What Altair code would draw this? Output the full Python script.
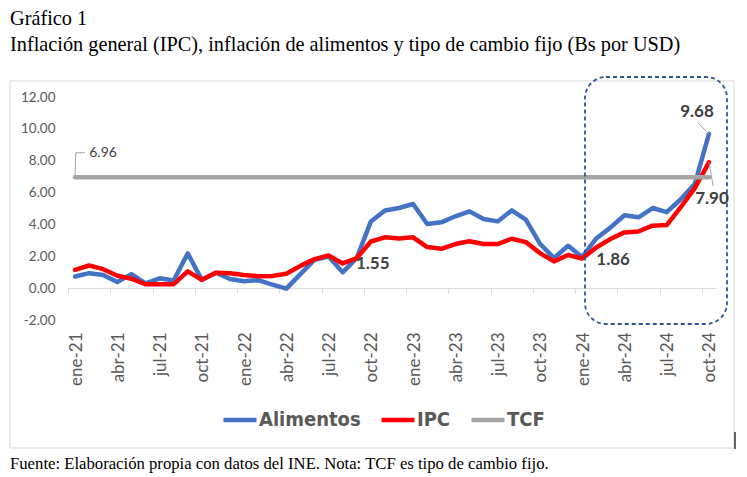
import altair as alt
import pandas as pd

# ---------------- data ----------------
meses = ["ene", "feb", "mar", "abr", "may", "jun", "jul", "ago", "sep", "oct", "nov", "dic"]
anios = ["21", "22", "23", "24"]
periodos = [f"{m}-{a}" for a in anios for m in meses][:46]   # ene-21 ... oct-24

alimentos = [0.73, 0.94, 0.82, 0.38, 0.88, 0.30, 0.62, 0.48, 2.18, 0.52, 0.97, 0.57,
             0.43, 0.50, 0.22, -0.03, 0.88, 1.78, 1.98, 0.99, 1.89, 4.19, 4.88, 5.03,
             5.28, 4.03, 4.13, 4.51, 4.82, 4.34, 4.19, 4.88, 4.30, 2.79, 1.89, 2.66,
             1.95, 3.12, 3.80, 4.58, 4.45, 5.03, 4.77, 5.58, 6.55, 9.68]

ipc = [1.15, 1.42, 1.19, 0.78, 0.59, 0.25, 0.25, 0.25, 1.05, 0.52, 0.96, 0.94,
       0.82, 0.75, 0.76, 0.90, 1.40, 1.82, 2.05, 1.55, 1.89, 2.93, 3.19, 3.12,
       3.19, 2.58, 2.47, 2.77, 2.94, 2.77, 2.77, 3.10, 2.89, 2.20, 1.68, 2.08,
       1.86, 2.55, 3.08, 3.50, 3.56, 3.92, 3.96, 5.08, 6.29, 7.90]

tcf = 6.96

tick_labels = ["ene-21", "abr-21", "jul-21", "oct-21", "ene-22", "abr-22", "jul-22", "oct-22",
               "ene-23", "abr-23", "jul-23", "oct-23", "ene-24", "abr-24", "jul-24", "oct-24"]

y_ticks = [-2, 0, 2, 4, 6, 8, 10, 12]

series = ["Alimentos", "IPC", "TCF"]
colores = ["#4472C4", "#FF0000", "#A5A5A5"]

titulo_1 = "Gráfico 1"
titulo_2 = "Inflación general (IPC), inflación de alimentos y tipo de cambio fijo (Bs por USD)"
fuente = "Fuente: Elaboración propia con datos del INE. Nota: TCF es tipo de cambio fijo."

# ---------------- tables ----------------
rows = []
for i, p in enumerate(periodos):
    rows.append({"idx": i, "periodo": p, "serie": "Alimentos", "valor": alimentos[i]})
    rows.append({"idx": i, "periodo": p, "serie": "IPC", "valor": ipc[i]})
    rows.append({"idx": i, "periodo": p, "serie": "TCF", "valor": tcf})
df = pd.DataFrame(rows)

FONT_AX = "Lato"
FONT_LEG = "Liberation Sans Narrow, DejaVu Sans Condensed, sans-serif"
FONT_SERIF = "Liberation Serif"

W, H = 648, 223

x_ticks = [-0.5 + 3 * j for j in range(len(tick_labels))]
lab_arr = "[" + ",".join(f"'{t}'" for t in tick_labels) + "]"

x_axis = alt.Axis(
    values=x_ticks,
    labelExpr=f"{lab_arr}[round((datum.value + 0.5) / 3)]",
    labelAngle=270,
    labelOffset=8,
    offset=-32,
    tickSize=5,
    labelPadding=39,
    domainColor="#D9D9D9",
    tickColor="#D9D9D9",
    grid=False,
    labelFont=FONT_AX,
    labelFontSize=17,
    labelColor="#595959",
    labelFlush=False,
    labelOverlap=False,
    labelBound=False,
    title=None,
)
x_scale = alt.Scale(domain=[-0.5, 45.5], nice=False, zero=False)

y_axis = alt.Axis(
    values=y_ticks,
    labelExpr="(datum.value < 0 ? '-' : '') + format(abs(datum.value), '.2f')",
    domain=False,
    ticks=False,
    grid=False,
    labelPadding=13,
    labelFont=FONT_AX,
    labelFontSize=13.5,
    labelColor="#595959",
    labelOverlap=False,
    labelFlush=False,
    labelBound=False,
    title=None,
)
y_scale = alt.Scale(domain=[-2, 12], nice=False, zero=False)


def X(field="idx"):
    return alt.X(f"{field}:Q", scale=x_scale, axis=x_axis)


def Y(field="valor"):
    return alt.Y(f"{field}:Q", scale=y_scale, axis=y_axis)


lines = alt.Chart(df).mark_line(strokeWidth=4.5, strokeJoin="round", strokeCap="round").encode(
    x=X(),
    y=Y(),
    color=alt.Color(
        "serie:N",
        scale=alt.Scale(domain=series, range=colores),
        legend=alt.Legend(
            orient="none",
            legendX=153,
            legendY=304,
            direction="horizontal",
            title=None,
            symbolType="stroke",
            symbolStrokeWidth=4.5,
            symbolSize=1089,
            labelFont=FONT_LEG,
            labelFontSize=20,
            labelFontWeight="bold",
            labelColor="#595959",
            labelOffset=0,
            columnPadding=11,
        ),
    ),
    order=alt.Order("idx:Q"),
)

one = pd.DataFrame({"a": [0]})

# frame of the chart object
frame = alt.Chart(one).mark_rect(
    fill="white", fillOpacity=0, stroke="#D9D9D9", strokeWidth=1
).encode(x=alt.value(-58), x2=alt.value(666), y=alt.value(-16), y2=alt.value(351))

# dashed rounded highlight box
box = alt.Chart(one).mark_rect(
    fill="white", fillOpacity=0, stroke="#2F5597", strokeWidth=1.8,
    strokeDash=[4, 3], cornerRadius=21
).encode(x=alt.value(517), x2=alt.value(659), y=alt.value(-20), y2=alt.value(227))

# small cursor mark at right bottom of frame
cursor = alt.Chart(one).mark_rule(color="black", strokeWidth=1.2).encode(
    x=alt.value(667), y=alt.value(335), y2=alt.value(352)
)


# data labels
def etiqueta(i, val, dx, dy, bold=True, size=17):
    d = pd.DataFrame({"idx": [i], "valor": [val], "txt": [f"{val:.2f}"]})
    return alt.Chart(d).mark_text(
        dx=dx, dy=dy, font=FONT_AX, fontSize=size,
        fontWeight="bold" if bold else "normal", color="#404040"
    ).encode(x=X(), y=Y(), text="txt:N")


lab_968 = etiqueta(45, alimentos[45], -12, -22)
lab_790 = etiqueta(45, ipc[45], 3, 37)
lab_155 = etiqueta(19, ipc[19], 30, 1)
lab_186 = etiqueta(36, ipc[36], 31, 1)
lab_696 = etiqueta(0, tcf, 28, -24, bold=False, size=14)

# leader lines (annotation anchors in data units)
lead = pd.DataFrame({
    "g": ["a", "a", "b", "b", "c", "c", "c"],
    "o": [0, 1, 0, 1, 0, 1, 2],
    "idx": [45, 44.2, 45, 45.3, 0, 0.05, 0.7],
    "valor": [alimentos[45], 10.4, ipc[45], 6.4, tcf, 8.5, 8.5],
})
leaders = alt.Chart(lead).mark_line(color="#A5A5A5", strokeWidth=1).encode(
    x=X(), y=Y(), detail="g:N", order="o:Q"
)


# title and source as text
def texto(t, ypix, size):
    return alt.Chart(pd.DataFrame({"t": [t]})).mark_text(
        align="left", baseline="alphabetic", font=FONT_SERIF, fontSize=size, color="black"
    ).encode(x=alt.value(-58), y=alt.value(ypix), text="t:N")


t1 = texto(titulo_1, -72, 20.3)
t2 = texto(titulo_2, -46, 20.3)
foot = texto(fuente, 372, 16.7)

chart = alt.layer(
    frame, lines, leaders, box, lab_968, lab_790, lab_155, lab_186, lab_696,
    t1, t2, foot, cursor
).properties(
    width=W, height=H,
    autosize=alt.AutoSizeParams(type="none"),
    padding={"left": 68, "top": 97, "right": 31, "bottom": 157},
    background="white",
).configure_view(stroke=None)

chart.save("out.html", embed_options={"renderer": "svg", "actions": False})
